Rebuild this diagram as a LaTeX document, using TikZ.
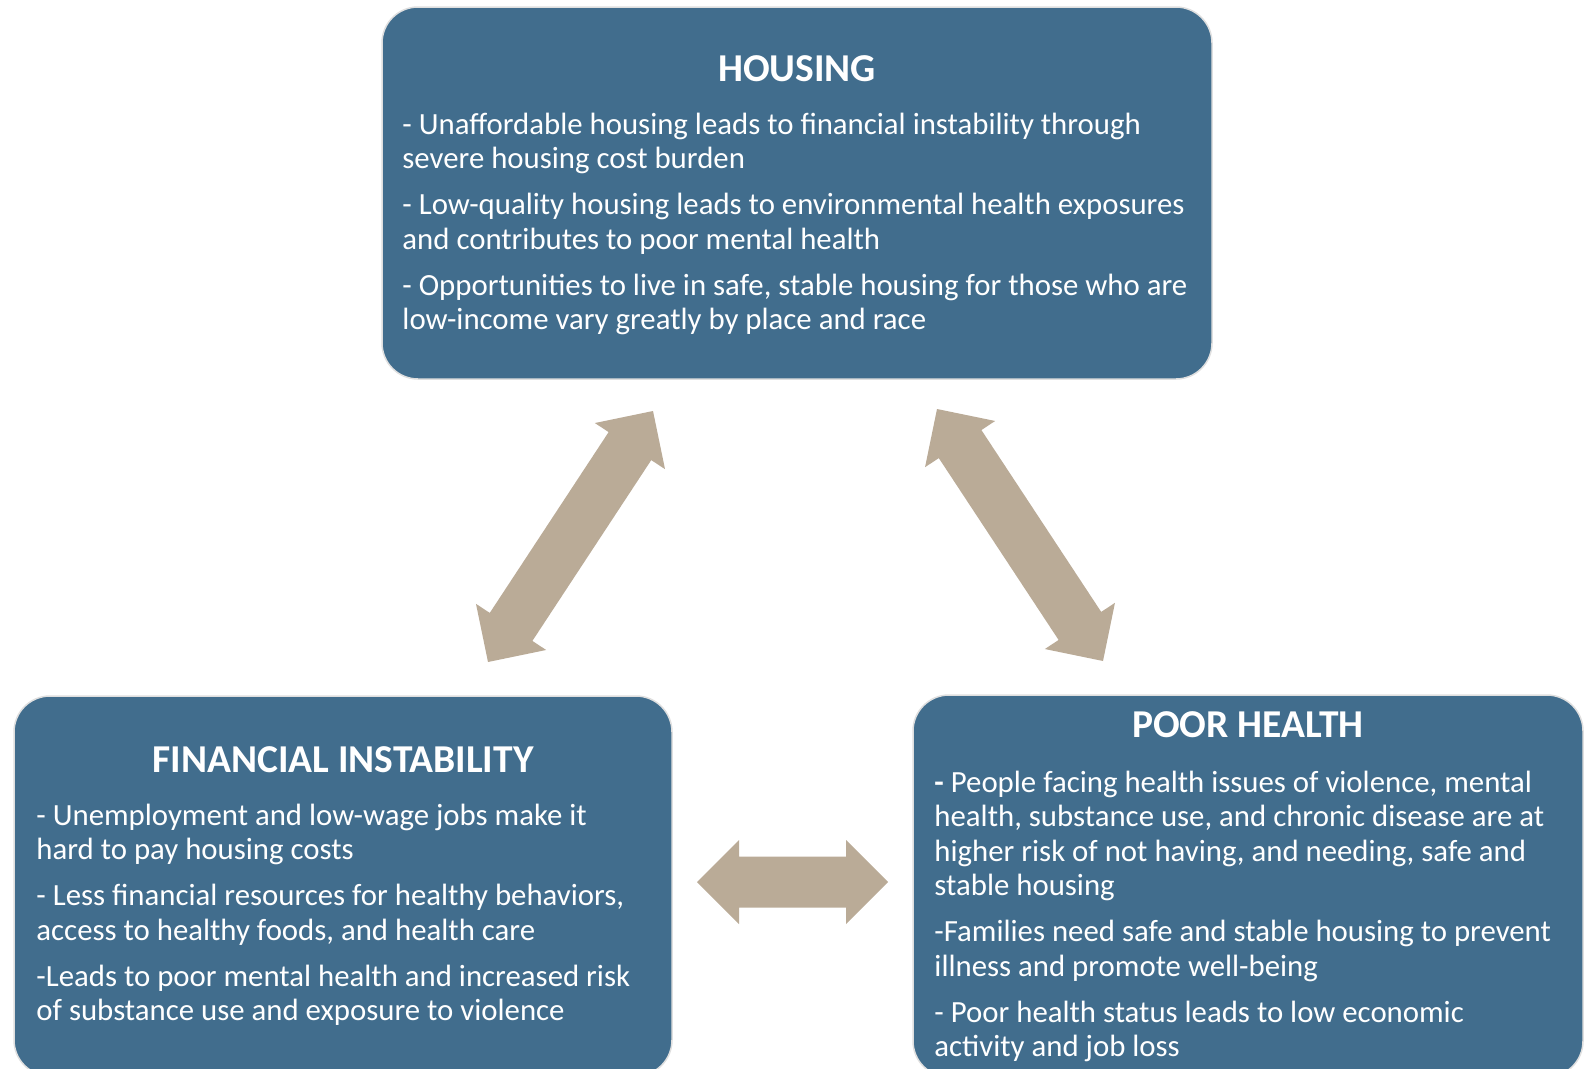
\documentclass[tikz,border=0pt]{standalone}
\usepackage{fontspec}
\setmainfont{Carlito}
\usepackage{xcolor}
\usetikzlibrary{positioning,calc}

\definecolor{boxblue}{HTML}{416D8D}
\definecolor{arrowtan}{HTML}{BAAB97}

% double block arrow from tip #1 to tip #2
\newcommand{\blockarrow}[2]{%
  \fill[arrowtan] (#1)
    -- ($(#1)!42pt!(#2)!42pt!90:(#2)$)
    -- ($(#1)!42pt!(#2)!25.5pt!90:(#2)$)
    -- ($(#2)!42pt!(#1)!25.5pt!-90:(#1)$)
    -- ($(#2)!42pt!(#1)!42pt!-90:(#1)$)
    -- (#2)
    -- ($(#2)!42pt!(#1)!42pt!90:(#1)$)
    -- ($(#2)!42pt!(#1)!25.5pt!90:(#1)$)
    -- ($(#1)!42pt!(#2)!25.5pt!-90:(#2)$)
    -- ($(#1)!42pt!(#2)!42pt!-90:(#2)$)
    -- cycle;}

\begin{document}
\begin{tikzpicture}[x=1pt, y=-1pt,
    panel/.style={fill=boxblue, draw=gray!25, line width=1.5pt, rounded corners=36pt},
    title/.style={text=white, font=\fontsize{39.5}{46}\selectfont\bfseries, inner sep=0pt},
    body/.style={text=white, font=\fontsize{30.8}{34.5}\selectfont, align=left, inner sep=0pt, anchor=north west}
]
    \useasboundingbox (0,0) rectangle (1594,1068);
    \clip (0,0) rectangle (1594,1068);

    % Housing box
    \node[panel, minimum width=830pt, minimum height=372pt] (housing) at (797,193) {};
    \node[title] (housingT) at ($(housing.north)+(0,62)$) {HOUSING};
    \node[body] (housingB) at ($(housing.north west)+(21,106.5)$) {%
      - Unaffordable housing leads to financial instability through\\
      severe housing cost burden\\[11.5pt]
      - Low-quality housing leads to environmental health exposures\\
      and contributes to poor mental health\\[11.5pt]
      - Opportunities to live in safe, stable housing for those who are\\
      low-income vary greatly by place and race};

    % Financial instability box
    \node[panel, minimum width=658pt, minimum height=380pt] (finance) at (343,886) {};
    \node[title] (financeT) at ($(finance.north)+(0,64)$) {FINANCIAL INSTABILITY};
    \node[body] (financeB) at ($(finance.north west)+(23,108.5)$) {%
      - Unemployment and low-wage jobs make it\\
      hard to pay housing costs\\[11.5pt]
      - Less financial resources for healthy behaviors,\\
      access to healthy foods, and health care\\[11.5pt]
      -Leads to poor mental health and increased risk\\
      of substance use and exposure to violence};

    % Poor health box
    \node[panel, minimum width=670pt, minimum height=382pt] (health) at (1248,886) {};
    \node[title] (healthT) at ($(health.north)+(0,30)$) {POOR HEALTH};
    \node[body] (healthB) at ($(health.north west)+(22,76.5)$) {%
      \textbf{-} People facing health issues of violence, mental\\
      health, substance use, and chronic disease are at\\
      higher risk of not having, and needing, safe and\\
      stable housing\\[11.5pt]
      -Families need safe and stable housing to prevent\\
      illness and promote well-being\\[11.5pt]
      - Poor health status leads to low economic\\
      activity and job loss};

    % Arrow tips
    \coordinate (hfTop) at (653,411);
    \coordinate (hfBot) at (488,662);
    \coordinate (hpTop) at (937,409);
    \coordinate (hpBot) at (1103,661);
    \coordinate (fpLeft) at (697,882);
    \coordinate (fpRight) at (888,882);

    % Connections
    \blockarrow{hfTop}{hfBot}
    \blockarrow{hpTop}{hpBot}
    \blockarrow{fpLeft}{fpRight}
\end{tikzpicture}
\end{document}
